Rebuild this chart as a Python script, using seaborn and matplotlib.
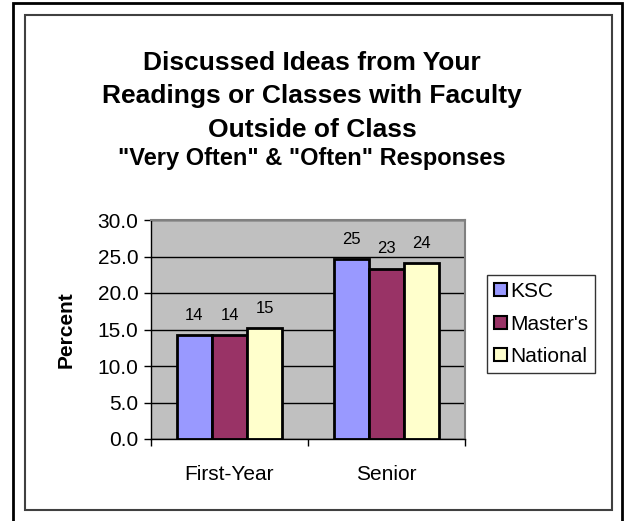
import pandas as pd
import matplotlib.pyplot as plt
import seaborn as sns
from matplotlib.patches import Rectangle

# data
classes = ['First-Year', 'Senior']
groups = ['KSC', "Master's", 'National']
ksc = [14.2, 24.6]
masters = [14.2, 23.3]
national = [15.2, 24.1]
y_ticks = [0, 5, 10, 15, 20, 25, 30]

df = pd.DataFrame({
    'Class': classes * 3,
    'Group': [g for g in groups for _ in classes],
    'Percent': ksc + masters + national,
})

palette = {'KSC': '#9999FF', "Master's": '#993366', 'National': '#FFFFCC'}

sns.set_style('white')
plt.rcParams['font.family'] = ['Liberation Sans', 'DejaVu Sans']
plt.rcParams['text.color'] = 'black'
plt.rcParams['xtick.color'] = 'black'
plt.rcParams['ytick.color'] = 'black'
plt.rcParams['axes.labelcolor'] = 'black'

fig = plt.figure(figsize=(6.24, 5.21), dpi=100)
ax = fig.add_axes([151 / 624, 1 - 439 / 521, 314 / 624, 219 / 521])

sns.barplot(data=df, x='Class', y='Percent', hue='Group', order=classes,
            hue_order=groups, palette=palette, width=0.67, gap=0,
            edgecolor='black', linewidth=2, saturation=1, ax=ax)

ax.set_facecolor('#C0C0C0')
ax.set_ylim(0, 30)
ax.set_xlim(-0.5, 1.5)
ax.set_yticks(y_ticks)
ax.set_yticklabels([f'{v:.1f}' for v in y_ticks], fontsize=15)
ax.yaxis.grid(True, color='black', linewidth=1)
ax.set_axisbelow(True)
ax.tick_params(axis='y', length=5, width=1, color='black', left=True, pad=4)
ax.tick_params(axis='x', which='major', length=0, pad=19, labelsize=15)
ax.set_xticks([-0.5, 0.5, 1.5], minor=True)
ax.tick_params(axis='x', which='minor', length=5, width=1, color='black', bottom=True)
ax.set_xlabel('')
ax.set_ylabel('Percent', fontsize=15, fontweight='bold', labelpad=16)

for side in ['left', 'bottom']:
    ax.spines[side].set_color('black')
    ax.spines[side].set_linewidth(1)
for side in ['top', 'right']:
    ax.spines[side].set_color('#808080')
    ax.spines[side].set_linewidth(1.5)
    ax.spines[side].set_visible(True)

for cont in ax.containers:
    ax.bar_label(cont, fmt='%.0f', padding=9, fontsize=12)

ax.get_legend().remove()
handles = [Rectangle((0, 0), 1, 1, facecolor=palette[g], edgecolor='black', linewidth=1.5)
           for g in groups]
leg = fig.legend(handles, groups, loc='center left',
                 bbox_to_anchor=(487 / 624, 1 - 324 / 521), fontsize=15,
                 frameon=True, fancybox=False, edgecolor='black',
                 handlelength=0.6, handleheight=0.6, handletextpad=0.15,
                 labelspacing=0.65, borderpad=0.35, borderaxespad=0)
leg.get_frame().set_linewidth(1)

fig.text(0.5, 1 - 63 / 521, 'Discussed Ideas from Your', ha='center', va='center',
         fontsize=19, fontweight='bold')
fig.text(0.5, 1 - 96 / 521, 'Readings or Classes with Faculty', ha='center', va='center',
         fontsize=19, fontweight='bold')
fig.text(0.5, 1 - 130 / 521, 'Outside of Class', ha='center', va='center',
         fontsize=19, fontweight='bold')
fig.text(0.5, 1 - 159 / 521, '"Very Often" & "Often" Responses', ha='center', va='center',
         fontsize=17, fontweight='bold')

# chart borders
fig.patches.append(Rectangle((13 / 624, -0.05), 609 / 624, 1 - 3 / 521 + 0.05,
                             transform=fig.transFigure, fill=False,
                             edgecolor='black', linewidth=2))
fig.patches.append(Rectangle((25 / 624, 1 - 510 / 521), 587 / 624, 495 / 521,
                             transform=fig.transFigure, fill=False,
                             edgecolor='#404040', linewidth=1.5))

fig.savefig('out.png', dpi=100)
